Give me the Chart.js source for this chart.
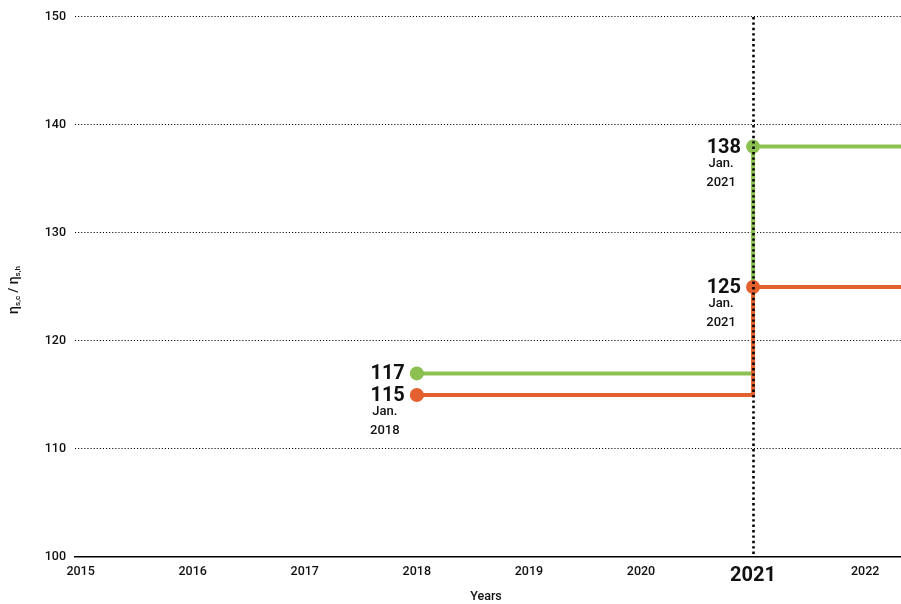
<!DOCTYPE html>
<html><head><meta charset="utf-8">
<script src="https://cdn.jsdelivr.net/npm/chart.js@4.4.1/dist/chart.umd.min.js"></script>
<style>html,body{margin:0;padding:0;background:#fff}#wrap{width:901px;height:604px}</style>
</head><body><div id="wrap"><canvas id="c" width="901" height="604"></canvas></div>
<script>
const years = [2015, 2016, 2017, 2018, 2019, 2020, 2021, 2022];
const yTicks = [100, 110, 120, 130, 140, 150];
const xMin = 2014.95, xMax = 2022.32;
const highlightYear = 2021;
const greenX = [2018, 2021, 2021, xMax];
const greenY = [117, 117, 138, 138];
const orangeX = [2018, 2021, 2021, xMax];
const orangeY = [115, 115, 125, 125];
const markerIdx = [0, 2];
const labelX = [2018, 2018, 2021, 2021];
const labelY = [117, 115, 138, 125];
const labelDate = ['', 'Jan.\n2018', 'Jan.\n2021', 'Jan.\n2021'];
const GREEN = '#8cc152', ORANGE = '#e4612f';
const FONT = 'Roboto, "DejaVu Sans", sans-serif';

const pts = (xs, ys) => xs.map((x, i) => ({x, y: ys[i]}));
const radii = n => Array.from({length: n}, (_, i) => markerIdx.includes(i) ? 7 : 0);

const overlay = {
  id: 'overlay',
  afterDatasetsDraw(chart) {
    const {ctx, chartArea: a, scales: {x, y}} = chart;
    ctx.save();
    const vx = Math.round(x.getPixelForValue(highlightYear)) + 0.5;
    ctx.strokeStyle = '#000'; ctx.lineWidth = 2.6; ctx.setLineDash([2.4, 3]);
    ctx.beginPath(); ctx.moveTo(vx, a.top); ctx.lineTo(vx, a.bottom); ctx.stroke();
    ctx.setLineDash([]);
    ctx.fillStyle = '#111';
    labelX.forEach((lx, i) => {
      const px = x.getPixelForValue(lx), py = y.getPixelForValue(labelY[i]);
      ctx.font = 'bold 20px ' + FONT; ctx.textAlign = 'right'; ctx.textBaseline = 'middle';
      ctx.fillText(String(labelY[i]), px - 12, py + 1);
      if (labelDate[i]) {
        ctx.font = '500 13px ' + FONT; ctx.textAlign = 'center';
        const lines = labelDate[i].split('\n');
        ctx.fillText(lines[0], px - 32, py + 17);
        ctx.fillText(lines[1], px - 32, py + 36);
      }
    });
    ctx.font = '500 12.5px ' + FONT; ctx.textAlign = 'center'; ctx.textBaseline = 'middle';
    ctx.fillText('Years', 486, 597);
    ctx.translate(14, 290); ctx.rotate(-Math.PI / 2);
    const parts = [['η', 14, 0], ['s,c', 8, 4], [' / ', 13, 0], ['η', 14, 0], ['s,h', 8, 4]];
    let w = 0;
    parts.forEach(p => { ctx.font = '500 ' + p[1] + 'px ' + FONT; w += ctx.measureText(p[0]).width; });
    let cx = -w / 2; ctx.textAlign = 'left';
    parts.forEach(p => { ctx.font = '500 ' + p[1] + 'px ' + FONT; ctx.fillText(p[0], cx, p[2]); cx += ctx.measureText(p[0]).width; });
    ctx.restore();
  }
};

new Chart(document.getElementById('c'), {
  type: 'scatter',
  data: { datasets: [
    { data: pts(greenX, greenY), showLine: true, borderColor: GREEN, backgroundColor: GREEN, borderWidth: 4,
      pointRadius: radii(greenX.length), pointHoverRadius: 0, pointBorderWidth: 0, order: 2, clip: false },
    { data: pts(orangeX, orangeY), showLine: true, borderColor: ORANGE, backgroundColor: ORANGE, borderWidth: 4,
      pointRadius: radii(orangeX.length), pointHoverRadius: 0, pointBorderWidth: 0, order: 1, clip: false }
  ]},
  options: {
    responsive: false, animation: false,
    layout: { autoPadding: false, padding: { top: 17, right: 0, left: 0, bottom: 0 } },
    plugins: { legend: { display: false }, tooltip: { enabled: false } },
    scales: {
      x: { type: 'linear', min: xMin, max: xMax,
        afterBuildTicks: s => { s.ticks = years.map(v => ({value: v})); },
        afterFit: s => { s.height = 47; },
        grid: { display: false, drawTicks: false },
        border: { display: true, color: '#000', width: 1.5 },
        ticks: { padding: 7, color: '#111', autoSkip: false, maxRotation: 0,
          callback: v => String(v),
          font: c => (c.tick && c.tick.value === highlightYear) ? {family: FONT, size: 20, weight: 'bold'} : {family: FONT, size: 12.5, weight: '500'} } },
      y: { min: 100, max: 150,
        afterBuildTicks: s => { s.ticks = yTicks.map(v => ({value: v})); },
        afterFit: s => { s.width = 75; },
        grid: { drawTicks: false, lineWidth: 1.1, color: c => (c.tick && c.tick.value === 100) ? 'rgba(0,0,0,0)' : '#000' },
        border: { display: false, dash: [1.1, 2] },
        ticks: { padding: 9, color: '#111', font: {family: FONT, size: 12.5, weight: '500'} } }
    }
  },
  plugins: [overlay]
});
</script></body></html>
